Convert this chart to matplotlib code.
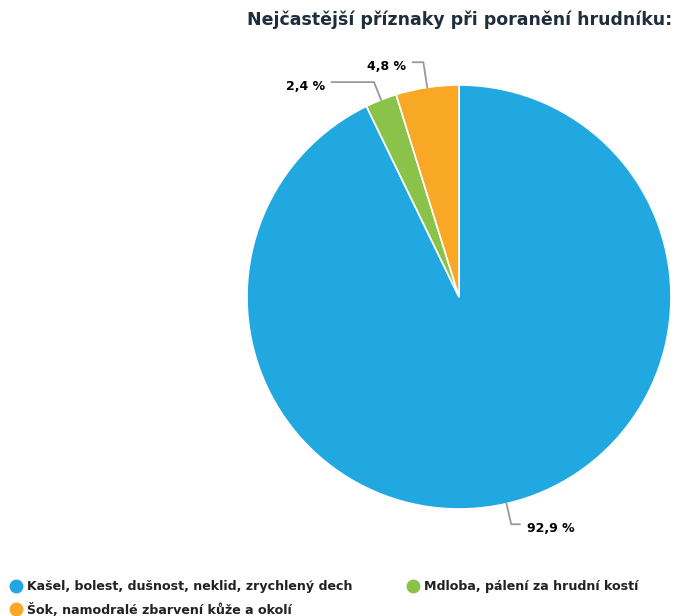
import matplotlib
matplotlib.use("Agg")
import matplotlib.pyplot as plt
from matplotlib.lines import Line2D
import numpy as np

categories = ["Kašel, bolest, dušnost, neklid, zrychlený dech",
              "Mdloba, pálení za hrudní kostí",
              "Šok, namodralé zbarvení kůže a okolí"]
values = [92.9, 2.4, 4.8]
labels = ["92,9 %", "2,4 %", "4,8 %"]
colors = ["#21a8e1", "#8bc34a", "#f9a826"]
title = "Nejčastější příznaky při poranění hrudníku:"

plt.rcParams['font.family'] = ['DejaVu Sans']
W, H = 675, 616
fig = plt.figure(figsize=(W/100, H/100), dpi=100)
cx, cy, R = 459, 297, 212
ax = fig.add_axes([(cx-R)/W, (H-cy-R)/H, 2*R/W, 2*R/H])
wedges, _ = ax.pie(values, colors=colors, startangle=90, counterclock=False,
                   radius=1, wedgeprops=dict(edgecolor="white", linewidth=1.2))
ax.set_xlim(-1, 1); ax.set_ylim(-1, 1)
ax.set_aspect('equal')
ax.axis('off')

cfg = [(1.10, 0.04, 0.035, 'left'),
       (1.09, -0.20, -0.03, 'right'),
       (1.12, -0.05, -0.03, 'right')]
for w, lab, (rb, dx, tdx, ha) in zip(wedges, labels, cfg):
    ang = np.deg2rad((w.theta1 + w.theta2) / 2)
    x0, y0 = np.cos(ang), np.sin(ang)
    x1, y1 = rb*np.cos(ang), rb*np.sin(ang)
    x2, y2 = x1 + dx, y1
    ax.plot([x0, x1, x2], [y0, y1, y2], color="#999999", lw=1.3, clip_on=False)
    ax.text(x2 + tdx, y2 - 0.02, lab, ha=ha, va='center', fontsize=9,
            fontweight='bold', color='black', clip_on=False)

fig.text(672/W, 1 - 20/H, title, ha='right', va='center', fontsize=12.55,
         fontweight='bold', color='#1f2d3d')

order = [0, 2, 1]
handles = [Line2D([], [], marker='o', linestyle='none', markersize=9,
                  markerfacecolor=colors[i], markeredgecolor=colors[i]) for i in order]
leg = fig.legend(handles, [categories[i] for i in order],
                 loc='upper left', bbox_to_anchor=(0.0, 1 - 569/H), ncol=2,
                 frameon=False, handlelength=0.8, handleheight=0.8,
                 handletextpad=0.45, columnspacing=4.4, labelspacing=0.75,
                 prop=dict(size=9.1, weight='bold'))
for t in leg.get_texts():
    t.set_color('#222222')

fig.savefig("out.png", dpi=100, facecolor='white')
